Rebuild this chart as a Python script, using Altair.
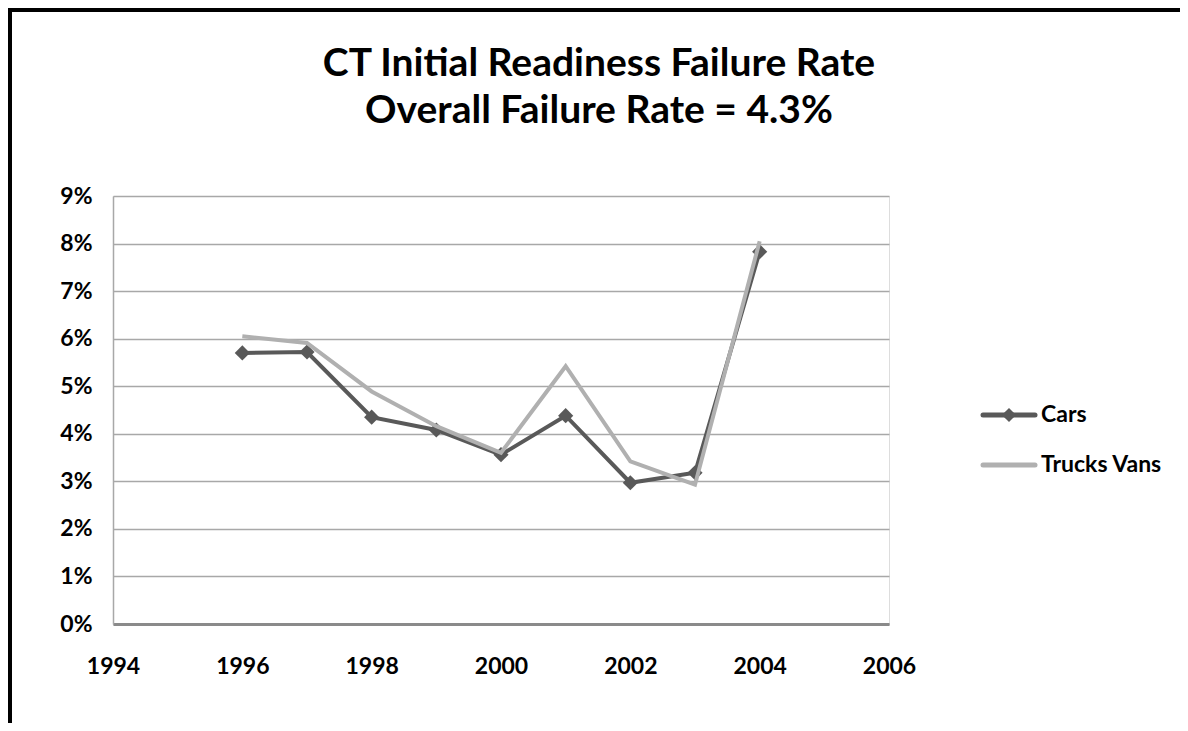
import altair as alt
import pandas as pd

years = [1996, 1997, 1998, 1999, 2000, 2001, 2002, 2003, 2004]
cars = [0.0570, 0.0572, 0.0435, 0.0408, 0.0356, 0.0438, 0.0297, 0.0318, 0.0783]
trucks = [0.0605, 0.0591, 0.0489, 0.0416, 0.0360, 0.0542, 0.0342, 0.0293, 0.0805]
series_names = ["Cars", "Trucks Vans"]
series_colors = ["#595959", "#b0b0b0"]
x_ticks = [1994, 1996, 1998, 2000, 2002, 2004, 2006]
y_ticks = [0.0, 0.01, 0.02, 0.03, 0.04, 0.05, 0.06, 0.07, 0.08, 0.09]
title_lines = ["CT Initial Readiness Failure Rate", "Overall Failure Rate = 4.3%"]

rows = []
for y, c, t in zip(years, cars, trucks):
    rows.append({"year": y, "rate": c, "series": series_names[0]})
    rows.append({"year": y, "rate": t, "series": series_names[1]})
df = pd.DataFrame(rows)
one = pd.DataFrame({"k": [0]})

FONT = "Lato"
LBL = 23

xenc = alt.X("year:Q", scale=alt.Scale(domain=[1994, 2006], nice=False, zero=False),
             axis=alt.Axis(values=x_ticks, format="d", title=None, grid=False,
                           ticks=False, labelPadding=42, labelBaseline="middle",
                           labelFontSize=LBL, labelFont=FONT, labelFontWeight="bold",
                           labelColor="#000000", labelFlush=False,
                           domainColor="#8a8a8a", domainWidth=3))
yenc = alt.Y("rate:Q", scale=alt.Scale(domain=[0, 0.09], nice=False),
             axis=alt.Axis(values=y_ticks, format=".0%", title=None, grid=True,
                           gridColor="#a8a8a8", gridWidth=1.5, ticks=False,
                           labelPadding=21, labelFontSize=LBL, labelFont=FONT,
                           labelFontWeight="bold", labelColor="#000000",
                           labelFlush=False,
                           domainColor="#a8a8a8", domainWidth=1.5))

base = alt.Chart(df)

cars_line = base.transform_filter(alt.datum.series == series_names[0]).mark_line(
    color=series_colors[0], strokeWidth=4).encode(x=xenc, y=yenc)
cars_pts = base.transform_filter(alt.datum.series == series_names[0]).mark_point(
    shape="diamond", filled=True, size=230, color=series_colors[0], opacity=1).encode(x="year:Q", y="rate:Q")
trucks_line = base.transform_filter(alt.datum.series == series_names[1]).mark_line(
    color=series_colors[1], strokeWidth=4).encode(x="year:Q", y="rate:Q")

# manual legend
leg = []
ys = [219, 269]
for i, name in enumerate(series_names):
    leg.append(alt.Chart(one).mark_rule(color=series_colors[i], strokeWidth=5, strokeCap="round").encode(
        x=alt.value(870), x2=alt.value(922), y=alt.value(ys[i])))
    leg.append(alt.Chart(one).mark_text(text=name, align="left", baseline="middle", fontSize=LBL,
                                        font=FONT, fontWeight="bold", color="#000000").encode(
        x=alt.value(928), y=alt.value(ys[i])))
leg.append(alt.Chart(one).mark_point(shape="diamond", filled=True, size=200, color=series_colors[0],
                                     opacity=1).encode(x=alt.value(896), y=alt.value(ys[0])))

# title as one multi-line text
title_mark = alt.Chart(one).mark_text(text=title_lines, align="center", baseline="alphabetic",
                                      fontSize=39, lineHeight=47, font=FONT, fontWeight="bold",
                                      color="#000000").encode(x=alt.value(486), y=alt.value(-120))

# frame
frame_top = alt.Chart(one).mark_rule(color="#000000", strokeWidth=4).encode(
    x=alt.value(-105), x2=alt.value(1080), y=alt.value(-186))
frame_left = alt.Chart(one).mark_rule(color="#000000", strokeWidth=4).encode(
    x=alt.value(-103), y=alt.value(-188), y2=alt.value(560))

chart = alt.layer(cars_line, cars_pts, trucks_line, *leg, title_mark, frame_top, frame_left).properties(
    width=776, height=428,
    autosize=alt.AutoSizeParams(type="none"),
    padding={"left": 105, "top": 188, "right": 291, "bottom": 99},
).configure_view(stroke=None).configure(background="#ffffff")

chart.save("out.html", embed_options={"renderer": "svg", "actions": False})
